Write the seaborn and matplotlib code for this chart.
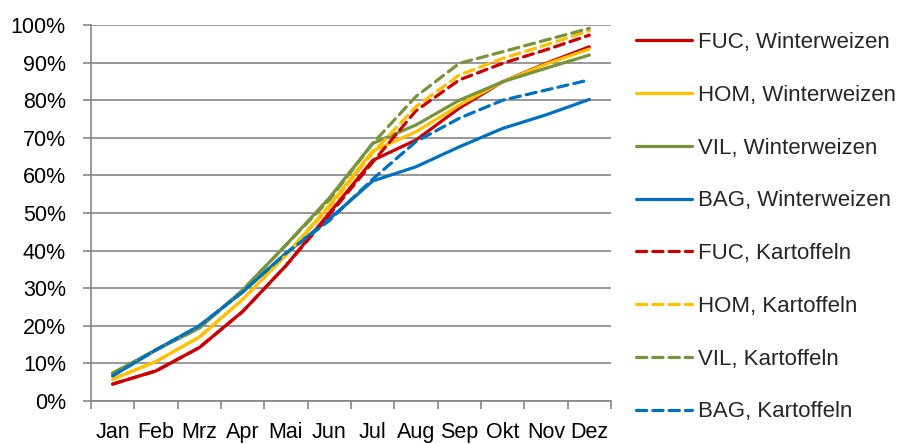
import matplotlib
matplotlib.use("Agg")
import matplotlib.pyplot as plt
import seaborn as sns
import pandas as pd
import numpy as np
from matplotlib.ticker import FixedLocator, PercentFormatter

months = ["Jan", "Feb", "Mrz", "Apr", "Mai", "Jun", "Jul", "Aug", "Sep", "Okt", "Nov", "Dez"]

fuc_ww = [4.5, 8.0, 14.2, 23.8, 36.0, 50.0, 64.0, 69.4, 77.9, 84.9, 89.8, 94.2]
hom_ww = [5.8, 10.5, 17.0, 27.0, 38.8, 52.0, 66.5, 71.6, 78.7, 84.9, 89.6, 93.6]
vil_ww = [7.4, 13.6, 19.4, 29.5, 41.5, 54.0, 68.5, 73.4, 80.0, 84.9, 88.5, 92.0]
bag_ww = [6.7, 13.6, 20.0, 29.0, 39.3, 48.4, 58.5, 62.3, 67.6, 72.5, 76.1, 80.2]
fuc_ka = [4.5, 8.0, 14.2, 23.8, 36.0, 49.5, 63.5, 77.2, 85.4, 89.8, 93.4, 97.3]
hom_ka = [5.8, 10.5, 17.0, 27.0, 38.8, 51.5, 66.0, 78.3, 86.7, 91.1, 94.7, 98.5]
vil_ka = [7.4, 13.6, 19.4, 29.5, 41.5, 53.5, 68.5, 81.0, 89.8, 92.9, 96.0, 99.1]
bag_ka = [6.7, 13.6, 20.0, 29.0, 39.3, 48.0, 59.0, 69.0, 75.2, 80.0, 82.7, 85.4]

series = [
    ("FUC, Winterweizen", fuc_ww, "#CC0000", "-"),
    ("HOM, Winterweizen", hom_ww, "#FFC000", "-"),
    ("VIL, Winterweizen", vil_ww, "#77933C", "-"),
    ("BAG, Winterweizen", bag_ww, "#0070C0", "-"),
    ("FUC, Kartoffeln", fuc_ka, "#CC0000", "--"),
    ("HOM, Kartoffeln", hom_ka, "#FFC000", "--"),
    ("VIL, Kartoffeln", vil_ka, "#77933C", "--"),
    ("BAG, Kartoffeln", bag_ka, "#0070C0", "--"),
]

sns.set_theme(style="white")
plt.rcParams["font.family"] = ["Liberation Sans", "DejaVu Sans"]

fig = plt.figure(figsize=(9.09, 4.44), dpi=100)
ax = fig.add_axes([91 / 909, 43 / 444, 520 / 909, 376 / 444])

x = np.arange(len(months))
handles = []
for label, vals, color, ls in series:
    df = pd.DataFrame({"x": x, "y": vals})
    sns.lineplot(data=df, x="x", y="y", ax=ax, color=color, linewidth=2.3,
                 label=label, legend=False)
    line = ax.lines[-1]
    if ls == "--":
        line.set_dashes([3.2, 1.9])
        line.set_dash_capstyle("round")
    else:
        line.set_solid_capstyle("round")
    handles.append(line)

ax.set_xlim(-0.5, 11.5)
ax.set_ylim(0, 100)
ax.yaxis.set_major_locator(FixedLocator(np.arange(0, 101, 10)))
ax.yaxis.set_major_formatter(PercentFormatter(decimals=0))
ax.set_xticks(x)
ax.set_xticklabels(months)
ax.xaxis.set_minor_locator(FixedLocator(np.arange(-0.5, 12, 1)))
ax.tick_params(axis="x", which="major", length=0, pad=15, labelsize=15.5, colors="black")
ax.tick_params(axis="x", which="minor", length=6, width=1.2, color="#868686", direction="out", bottom=True)
ax.tick_params(axis="y", which="major", length=6, width=1.2, color="#868686", direction="out",
               left=True, pad=12, labelsize=15.5, labelcolor="black")
ax.set_xlabel("")
ax.set_ylabel("")
ax.grid(axis="y", color="#868686", linewidth=1.2)
ax.grid(axis="x", visible=False)
ax.set_axisbelow(True)
for s in ["top", "right"]:
    ax.spines[s].set_visible(False)
for s in ["left", "bottom"]:
    ax.spines[s].set_color("#868686")
    ax.spines[s].set_linewidth(1.2)

leg = fig.legend(handles=handles, labels=[s[0] for s in series], loc="upper left",
                 bbox_to_anchor=(636 / 909, 1 - 32 / 444), frameon=False,
                 fontsize=16, handlelength=2.5, labelspacing=1.43, handletextpad=0.3,
                 borderaxespad=0, borderpad=0)

fig.savefig("out.png", dpi=100)
